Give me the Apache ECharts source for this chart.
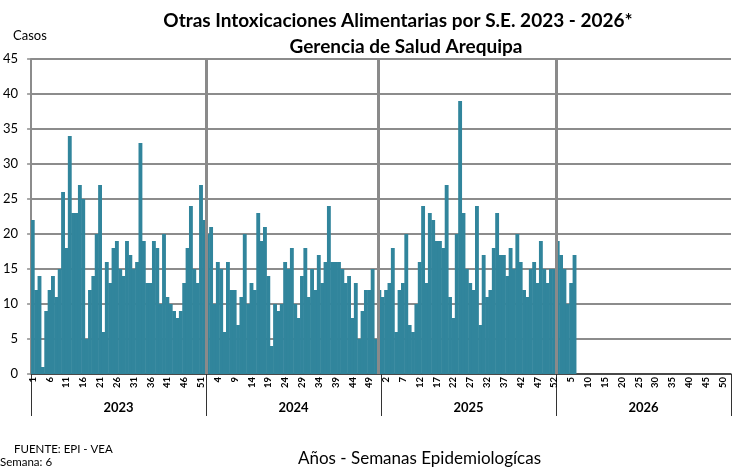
<!DOCTYPE html>
<html>
<head>
<meta charset="utf-8">
<script src="https://cdn.jsdelivr.net/npm/echarts@6/dist/echarts.min.js"></script>
<style>
  html, body { margin: 0; padding: 0; background: #fff; }
  #chart { width: 739px; height: 472px; }
</style>
</head>
<body>
<div id="chart"></div>
<script>
// Years shown on the lower axis band, 52 epidemiological weeks each
const years = ['2023', '2024', '2025', '2026'];
const weeksPerYear = 52;

// Weekly cases of other food poisonings
const cases2023 = [22, 12, 14, 1, 9, 12, 14, 11, 15, 26, 18, 34, 23, 23, 27, 25, 5, 12, 14, 20, 27, 6, 16, 13, 18, 19,
                   15, 14, 19, 17, 15, 16, 33, 19, 13, 13, 19, 18, 10, 20, 11, 10, 9, 8, 9, 13, 18, 24, 15, 13, 27, 22];
const cases2024 = [20, 21, 10, 16, 15, 6, 16, 12, 12, 7, 11, 20, 10, 13, 12, 23, 19, 21, 14, 4, 10, 9, 10, 16, 15, 18,
                   10, 8, 14, 18, 11, 15, 12, 17, 13, 16, 24, 16, 16, 16, 15, 13, 14, 8, 13, 5, 9, 12, 12, 15, 5, 12];
const cases2025 = [11, 12, 13, 18, 6, 12, 13, 20, 7, 6, 10, 16, 24, 13, 23, 22, 19, 19, 18, 27, 11, 8, 20, 39, 23, 15,
                   13, 12, 24, 7, 17, 11, 12, 18, 23, 17, 17, 14, 18, 15, 20, 16, 12, 11, 15, 16, 13, 19, 15, 13, 15, 15];
const cases2026 = [19, 17, 15, 10, 13, 17];

// Value axis ticks
const yMin = 0, yMax = 45, yStep = 5;

// One category per week, e.g. "2024|7"
const categories = [];
years.forEach(y => {
  for (let w = 1; w <= weeksPerYear; w++) categories.push(y + '|' + w);
});
const values = cases2023.concat(cases2024, cases2025, cases2026);

const font = 'Lato, "Open Sans", sans-serif';
const barColor = '#31859c';
const chart = echarts.init(document.getElementById('chart'), null, { renderer: 'canvas' });

chart.setOption({
  animation: false,
  backgroundColor: '#ffffff',
  title: [
    {
      text: 'Otras Intoxicaciones Alimentarias por S.E. 2023 - 2026*',
      left: 393, top: 6, textAlign: 'center',
      textStyle: { fontFamily: font, fontSize: 19, fontWeight: 'bold', color: '#000' }
    },
    {
      text: 'Gerencia de Salud Arequipa',
      left: 401, top: 32, textAlign: 'center',
      textStyle: { fontFamily: font, fontSize: 19, fontWeight: 'bold', color: '#000' }
    }
  ],
  graphic: [
    { type: 'text', left: 13, top: 29, style: { text: 'Casos', fontFamily: font, fontSize: 13, fill: '#000' } },
    { type: 'text', left: 14, top: 443, style: { text: 'FUENTE: EPI - VEA', fontFamily: font, fontSize: 11.5, fill: '#000' } },
    { type: 'text', left: 0, top: 456, style: { text: 'Semana: 6', fontFamily: font, fontSize: 11.5, fill: '#000' } },
    { type: 'text', left: 298, top: 450, style: { text: 'Años - Semanas Epidemiologícas', fontFamily: font, fontSize: 17, fill: '#000' } }
  ],
  grid: { left: 29, right: 8, top: 59, bottom: 98, containLabel: false },
  xAxis: [
    {
      type: 'category',
      data: categories,
      position: 'bottom',
      boundaryGap: true,
      axisLine: { show: true, lineStyle: { color: '#333', width: 1.5 } },
      axisTick: { show: false },
      axisLabel: {
        interval: 4,
        rotate: 90,
        margin: 3,
        fontFamily: font,
        fontSize: 9.5,
        fontWeight: 'bold',
        color: '#000',
        formatter: v => v.split('|')[1]
      },
      splitLine: { show: false }
    },
    {
      type: 'category',
      data: years,
      position: 'bottom',
      boundaryGap: true,
      axisLine: { show: false },
      axisTick: { show: true, interval: 0, length: 42, lineStyle: { color: '#333', width: 1 } },
      axisLabel: { margin: 27, fontFamily: font, fontSize: 13, fontWeight: 'bold', color: '#000' },
      splitLine: { show: false }
    },
    {
      type: 'value', min: 0, max: categories.length, show: false
    }
  ],
  yAxis: {
    type: 'value',
    min: yMin, max: yMax, interval: yStep,
    axisLine: { show: true, lineStyle: { color: '#8c8c8c', width: 2 } },
    axisTick: { show: true, length: 4, lineStyle: { color: '#8c8c8c', width: 1.5 } },
    axisLabel: { margin: 13, fontFamily: font, fontSize: 13, color: '#000' },
    splitLine: { show: true, lineStyle: { color: '#8c8c8c', width: 2 } }
  },
  series: [
    {
      type: 'bar',
      data: values,
      xAxisIndex: 0,
      barWidth: '115%',
      itemStyle: { color: barColor },
      z: 2
    },
    {
      // thick gray dividers between years in the plot area
      type: 'scatter',
      xAxisIndex: 2,
      data: [],
      markLine: {
        silent: true,
        symbol: ['none', 'none'],
        label: { show: false },
        lineStyle: { color: '#8a8a8a', width: 3, type: 'solid' },
        data: [{ xAxis: weeksPerYear }, { xAxis: weeksPerYear * 2 - 0.8 }, { xAxis: weeksPerYear * 3 }]
      },
      z: 3
    }
  ]
});
</script>
</body>
</html>
